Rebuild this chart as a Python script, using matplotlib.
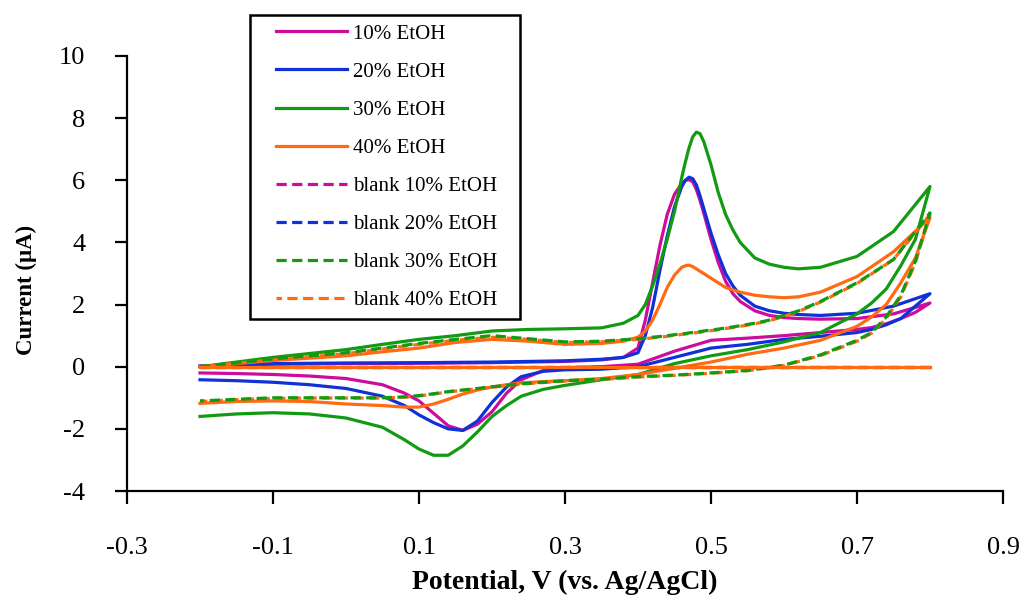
import matplotlib
matplotlib.use("Agg")
import matplotlib.pyplot as plt
from matplotlib.patches import Rectangle

# Potential sweep grids (V vs. Ag/AgCl): anodic sweep, then cathodic sweep
E_fwd = [-0.2, -0.1, 0.0, 0.05, 0.1, 0.15, 0.2, 0.25, 0.3, 0.35, 0.38, 0.40, 0.41, 0.42, 0.43,
         0.44, 0.45, 0.46, 0.465, 0.47, 0.475, 0.48, 0.485, 0.49, 0.50, 0.51, 0.52, 0.53, 0.54,
         0.56, 0.58, 0.60, 0.62, 0.65, 0.70, 0.75, 0.80]
E_rev = [0.80, 0.78, 0.76, 0.74, 0.72, 0.70, 0.65, 0.60, 0.55, 0.50, 0.45, 0.40, 0.35, 0.30,
         0.27, 0.24, 0.22, 0.20, 0.18, 0.16, 0.14, 0.12, 0.10, 0.08, 0.05, 0.0, -0.05, -0.1, -0.15, -0.2]
E_flat = [-0.2, 0.8]

# Currents (uA) along each sweep
i10_fwd = [0.02, 0.08, 0.1, 0.1, 0.11, 0.12, 0.13, 0.15, 0.17, 0.22, 0.3, 0.6, 1.5, 2.7, 3.9,
           4.9, 5.55, 5.9, 6.0, 6.02, 5.95, 5.7, 5.35, 4.95, 4.1, 3.35, 2.75, 2.35, 2.1,
           1.8, 1.65, 1.58, 1.55, 1.53, 1.55, 1.7, 2.05]
i10_rev = [2.05, 1.75, 1.55, 1.38, 1.26, 1.2, 1.1, 1.0, 0.92, 0.85, 0.5, 0.08, 0.0, -0.03,
           -0.12, -0.42, -0.85, -1.45, -1.85, -2.05, -1.9, -1.5, -1.1, -0.85, -0.58, -0.38, -0.3, -0.25, -0.22, -0.2]

i20_fwd = [0.02, 0.1, 0.12, 0.125, 0.13, 0.14, 0.15, 0.17, 0.19, 0.24, 0.3, 0.45, 1.0, 1.9, 3.1,
           4.2, 5.15, 5.8, 6.0, 6.1, 6.05, 5.85, 5.5, 5.1, 4.3, 3.6, 3.0, 2.6, 2.3,
           1.95, 1.8, 1.72, 1.68, 1.65, 1.72, 1.95, 2.35]
i20_rev = [2.35, 1.95, 1.55, 1.35, 1.2, 1.1, 0.98, 0.88, 0.72, 0.6, 0.3, 0.0, -0.08, -0.1,
           -0.15, -0.32, -0.65, -1.15, -1.75, -2.05, -2.0, -1.8, -1.55, -1.25, -0.95, -0.7, -0.58, -0.5, -0.45, -0.42]

i30_fwd = [0.0, 0.3, 0.55, 0.72, 0.88, 1.0, 1.15, 1.2, 1.22, 1.25, 1.4, 1.65, 2.0, 2.6, 3.3,
           4.1, 5.0, 6.1, 6.6, 7.05, 7.4, 7.55, 7.5, 7.25, 6.5, 5.6, 4.9, 4.4, 4.0,
           3.5, 3.3, 3.2, 3.15, 3.2, 3.55, 4.35, 5.8]
i30_rev = [5.8, 4.1, 3.25, 2.5, 2.05, 1.7, 1.1, 0.8, 0.55, 0.35, 0.1, -0.25, -0.42, -0.6,
           -0.73, -0.95, -1.25, -1.6, -2.1, -2.55, -2.85, -2.85, -2.65, -2.35, -1.95, -1.65, -1.52, -1.48, -1.52, -1.6]

i40_fwd = [0.0, 0.2, 0.35, 0.48, 0.6, 0.78, 0.88, 0.82, 0.72, 0.75, 0.82, 0.95, 1.15, 1.5, 2.0,
           2.55, 2.95, 3.2, 3.25, 3.27, 3.22, 3.15, 3.07, 3.0, 2.85, 2.7, 2.55, 2.47, 2.4,
           2.3, 2.25, 2.22, 2.25, 2.4, 2.9, 3.7, 4.8]
i40_rev = [4.8, 3.5, 2.7, 2.0, 1.6, 1.3, 0.85, 0.6, 0.4, 0.15, -0.05, -0.25, -0.38, -0.45,
           -0.48, -0.52, -0.58, -0.65, -0.75, -0.88, -1.05, -1.2, -1.3, -1.3, -1.25, -1.2, -1.12, -1.1, -1.12, -1.18]
i40_flat = [0.0, 0.0]

blank10_i = [0.0, 0.0]
blank20_i = [0.0, 0.0]

blank30_fwd = [0.0, 0.25, 0.45, 0.6, 0.75, 0.88, 1.0, 0.9, 0.8, 0.82, 0.87, 0.9, 0.92, 0.95, 0.97,
               1.0, 1.03, 1.06, 1.07, 1.09, 1.1, 1.12, 1.13, 1.15, 1.18, 1.21, 1.25, 1.28, 1.32,
               1.4, 1.5, 1.65, 1.8, 2.1, 2.7, 3.45, 4.95]
blank30_rev = [4.95, 3.4, 2.3, 1.6, 1.1, 0.85, 0.38, 0.05, -0.12, -0.2, -0.27, -0.32, -0.4, -0.45,
               -0.5, -0.55, -0.6, -0.65, -0.7, -0.75, -0.8, -0.87, -0.93, -0.97, -1.0, -1.0, -1.0, -1.0, -1.05, -1.1]

blank40_fwd = [0.0, 0.22, 0.42, 0.57, 0.72, 0.85, 0.95, 0.88, 0.78, 0.8, 0.85, 0.88, 0.9, 0.93, 0.95,
               0.98, 1.01, 1.04, 1.05, 1.07, 1.08, 1.1, 1.11, 1.13, 1.16, 1.19, 1.23, 1.26, 1.3,
               1.38, 1.48, 1.62, 1.78, 2.08, 2.68, 3.45, 4.9]
blank40_rev = [4.9, 3.35, 2.25, 1.55, 1.08, 0.82, 0.36, 0.04, -0.13, -0.21, -0.28, -0.33, -0.41, -0.46,
               -0.51, -0.56, -0.61, -0.66, -0.71, -0.76, -0.81, -0.88, -0.94, -0.98, -1.01, -1.01, -1.01, -1.02, -1.06, -1.12]

x_ticks = [-0.3, -0.1, 0.1, 0.3, 0.5, 0.7, 0.9]
y_ticks = [-4, -2, 0, 2, 4, 6, 8, 10]

MAGENTA = "#CC0C9C"
BLUE = "#1030D8"
GREEN = "#139A13"
ORANGE = "#FF6A12"

plt.rcParams["font.family"] = ["Liberation Serif", "DejaVu Serif"]

fig = plt.figure(figsize=(10.24, 6.03), dpi=100)
W, H = 1024, 603
ax = fig.add_axes([127 / W, 1 - 491 / H, (1003 - 127) / W, (491 - 56) / H])

LW = 2.3
DASH = (0, (3.2, 1.7))


def loop(a, b):
    return a + b


E_loop = loop(E_fwd, E_rev)

h10, = ax.plot(E_loop, loop(i10_fwd, i10_rev), color=MAGENTA, lw=LW, label="10% EtOH", zorder=2)
h20, = ax.plot(E_loop, loop(i20_fwd, i20_rev), color=BLUE, lw=LW, label="20% EtOH", zorder=2.1)
h30, = ax.plot(E_loop, loop(i30_fwd, i30_rev), color=GREEN, lw=LW, label="30% EtOH", zorder=2.2)
h40, = ax.plot(E_loop, loop(i40_fwd, i40_rev), color=ORANGE, lw=LW, label="40% EtOH", zorder=2.3)

b10, = ax.plot(E_flat, blank10_i, color=MAGENTA, lw=LW, ls=DASH, label="blank 10% EtOH", zorder=2.4)
b20, = ax.plot(E_flat, blank20_i, color=BLUE, lw=LW, ls=DASH, label="blank 20% EtOH", zorder=2.5)
b40, = ax.plot(E_loop, loop(blank40_fwd, blank40_rev), color=ORANGE, lw=LW, ls=(1.5, (3.2, 1.7)),
               label="blank 40% EtOH", zorder=2.6)
b30, = ax.plot(E_loop, loop(blank30_fwd, blank30_rev), color=GREEN, lw=LW, ls=DASH,
               label="blank 30% EtOH", zorder=2.7)
ax.plot(E_flat, i40_flat, color=ORANGE, lw=LW, zorder=2.8)

ax.set_xlim(-0.3, 0.9)
ax.set_ylim(-4, 10)
ax.set_xticks(x_ticks)
ax.set_xticklabels([f"{v:.1f}" for v in x_ticks])
ax.set_yticks(y_ticks)
ax.set_yticklabels([str(v) for v in y_ticks])

for side in ("top", "right"):
    ax.spines[side].set_visible(False)
for side in ("left", "bottom"):
    ax.spines[side].set_linewidth(1.6)
    ax.spines[side].set_color("black")

ax.tick_params(axis="both", direction="out", length=9, width=1.6, labelsize=19, colors="black")
ax.tick_params(axis="x", pad=24)
ax.tick_params(axis="y", pad=21)

ax.set_xlabel("Potential, V (vs. Ag/AgCl)", fontsize=20, fontweight="bold")
ax.set_ylabel("Current (\u03bcA)", fontsize=16.5, fontweight="bold")
ax.xaxis.set_label_coords(0.5, -0.182)
ax.yaxis.set_label_coords(-0.103, 0.462)

# Legend frame and entries
frame = Rectangle((250 / W, 1 - 319 / H), 270 / W, 304 / H, transform=fig.transFigure,
                  facecolor="white", edgecolor="black", lw=1.8, zorder=4)
fig.patches.append(frame)

handles = [h10, h20, h30, h40, b10, b20, b30, b40]
leg = fig.legend(handles=handles, labels=[h.get_label() for h in handles],
                 loc="upper left", bbox_to_anchor=(276 / W, 1 - 24 / H),
                 frameon=False, fontsize=15, handlelength=3.4, handletextpad=0.3,
                 labelspacing=0.89, borderpad=0, borderaxespad=0)
leg.set_zorder(5)

fig.savefig("out.png", dpi=100, facecolor="white")
